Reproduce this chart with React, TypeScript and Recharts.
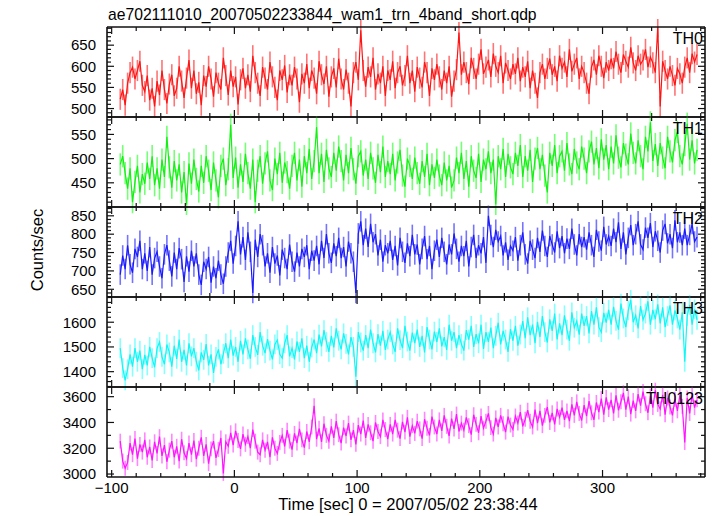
import React from "react";
import { ComposedChart, Line, XAxis, YAxis, ErrorBar } from "recharts";

// ---- time grid (bin centres, seconds) ----
const T0 = -93;
const BIN = 2;

// ---- series values (counts/sec) ----
const TH0 = [
  522, 545, 508, 560, 585, 598, 570, 590, 612, 555,
  540, 578, 520, 548, 505, 565, 532, 590, 545, 512,
  558, 580, 530, 548, 600, 565, 525, 572, 615, 548,
  590, 535, 562, 508, 578, 552, 600, 570, 528, 585,
  560, 545, 620, 578, 532, 590, 552, 575, 510, 568,
  595, 548, 580, 540, 625, 585, 560, 530, 598, 572,
  545, 610, 575, 550, 520, 590, 568, 602, 538, 580,
  555, 598, 570, 515, 582, 560, 605, 548, 590, 572,
  535, 612, 580, 558, 600, 528, 575, 595, 550, 618,
  570, 545, 592, 560, 505, 585, 610, 568, 685, 590,
  552, 598, 575, 620, 545, 582, 560, 600, 530, 590,
  568, 612, 548, 585, 600, 555, 578, 625, 560, 590,
  540, 598, 572, 550, 610, 585, 530, 595, 568, 605,
  575, 545, 590, 560, 600, 528, 565, 592, 680, 580,
  610, 585, 558, 620, 595, 570, 605, 640, 582, 598,
  615, 575, 630, 600, 585, 625, 560, 608, 590, 570,
  605, 582, 620, 565, 598, 575, 612, 548, 590, 560,
  525, 585, 605, 570, 595, 618, 580, 600, 565, 625,
  595, 610, 575, 640, 588, 605, 620, 570, 600, 585,
  560, 535, 598, 615, 580, 625, 600, 572, 610, 590,
  618, 595, 635, 605, 585, 628, 612, 598, 645, 608,
  590, 625, 605, 615, 640, 598, 622, 608, 585, 693,
  505, 612, 590, 570, 600, 578, 555, 595, 582, 560,
  598, 620, 585, 630, 610, 628,
];
const TH1 = [
  488, 505, 470, 438, 480, 410, 452, 485, 430, 468,
  448, 492, 458, 505, 445, 480, 438, 498, 462, 545,
  482, 440, 495, 455, 488, 430, 472, 405, 490, 448,
  498, 458, 432, 485, 450, 505, 475, 435, 492, 455,
  420, 485, 500, 445, 478, 570, 460, 502, 440, 488,
  452, 510, 470, 438, 498, 410, 475, 505, 448, 490,
  515, 455, 435, 500, 468, 512, 450, 492, 472, 438,
  485, 512, 455, 498, 442, 505, 470, 520, 458, 495,
  565, 470, 510, 452, 518, 480, 462, 512, 475, 525,
  495, 455, 508, 470, 522, 478, 448, 505, 515, 465,
  498, 458, 512, 480, 450, 508, 472, 525, 462, 495,
  468, 510, 455, 492, 518, 465, 442, 500, 485, 458,
  502, 470, 448, 495, 462, 510, 445, 488, 460, 498,
  465, 445, 492, 455, 485, 440, 455, 502, 470, 512,
  458, 495, 442, 505, 475, 460, 510, 452, 498, 478,
  515, 470, 498, 405, 505, 478, 520, 462, 510, 482,
  468, 512, 485, 528, 462, 505, 475, 518, 452, 500,
  522, 478, 508, 465, 430, 512, 485, 528, 470, 505,
  515, 475, 532, 488, 468, 520, 492, 478, 525, 500,
  470, 515, 535, 488, 522, 480, 540, 498, 528, 478,
  525, 490, 548, 502, 482, 532, 508, 488, 552, 512,
  490, 538, 505, 478, 545, 515, 575, 495, 530, 485,
  532, 502, 480, 545, 515, 492, 538, 555, 505, 488,
  528, 572, 498, 538, 490, 518,
];
const TH2 = [
  690, 742, 705, 770, 718, 695, 760, 738, 782, 705,
  748, 700, 765, 690, 735, 752, 712, 680, 745, 770,
  728, 685, 750, 705, 762, 732, 670, 740, 698, 755,
  712, 748, 690, 662, 725, 705, 738, 668, 712, 680,
  728, 690, 665, 712, 750, 782, 720, 768, 835, 745,
  792, 730, 805, 752, 640, 785, 738, 800, 770, 712,
  748, 695, 765, 720, 742, 688, 758, 735, 705, 772,
  725, 698, 750, 712, 760, 738, 770, 705, 755, 728,
  768, 718, 782, 735, 800, 748, 722, 775, 740, 790,
  735, 765, 712, 780, 748, 725, 640, 802, 835, 770,
  815, 765, 828, 778, 800, 742, 785, 725, 770, 748,
  782, 730, 768, 715, 790, 752, 722, 775, 740, 798,
  745, 772, 718, 760, 795, 732, 768, 705, 755, 785,
  738, 790, 752, 718, 772, 745, 802, 760, 725, 768,
  740, 782, 712, 765, 798, 735, 770, 748, 792, 722,
  850, 798, 765, 812, 780, 795, 742, 778, 730, 768,
  755, 792, 728, 770, 805, 745, 720, 782, 758, 735,
  790, 752, 810, 768, 738, 795, 772, 750, 808, 762,
  795, 748, 788, 760, 815, 772, 742, 800, 765, 792,
  758, 805, 770, 738, 812, 780, 755, 820, 772, 795,
  768, 815, 778, 832, 760, 805, 745, 790, 825, 770,
  800, 835, 772, 758, 818, 790, 830, 765, 808, 782,
  750, 810, 828, 775, 800, 762, 838, 778, 805, 770,
  815, 770, 798, 828, 780, 792,
];
const TH3 = [
  1495, 1415, 1365, 1410, 1470, 1420, 1495, 1440, 1485, 1410,
  1468, 1425, 1500, 1455, 1418, 1495, 1520, 1460, 1430, 1510,
  1478, 1420, 1505, 1452, 1530, 1440, 1488, 1425, 1515, 1462,
  1495, 1440, 1405, 1478, 1448, 1512, 1425, 1470, 1395, 1460,
  1490, 1430, 1472, 1515, 1455, 1530, 1465, 1500, 1440, 1525,
  1470, 1535, 1490, 1452, 1548, 1500, 1468, 1560, 1505, 1475,
  1532, 1485, 1450, 1510, 1528, 1470, 1455, 1515, 1548, 1462,
  1495, 1450, 1522, 1480, 1535, 1455, 1505, 1440, 1498, 1530,
  1475, 1550, 1502, 1568, 1520, 1480, 1545, 1498, 1575, 1525,
  1490, 1555, 1512, 1470, 1540, 1500, 1380, 1560, 1518, 1485,
  1548, 1495, 1570, 1515, 1478, 1552, 1505, 1565, 1488, 1530,
  1560, 1510, 1480, 1575, 1528, 1495, 1585, 1522, 1485, 1558,
  1515, 1570, 1500, 1545, 1478, 1580, 1530, 1490, 1562, 1520,
  1575, 1502, 1540, 1488, 1590, 1525, 1560, 1495, 1548, 1512,
  1485, 1568, 1530, 1585, 1500, 1552, 1515, 1590, 1492, 1560,
  1520, 1578, 1495, 1545, 1598, 1510, 1565, 1530, 1480, 1572,
  1525, 1585, 1505, 1550, 1605, 1535, 1620, 1548, 1590, 1515,
  1602, 1540, 1625, 1560, 1518, 1612, 1565, 1635, 1530, 1595,
  1548, 1628, 1570, 1525, 1640, 1578, 1605, 1550, 1635, 1585,
  1625, 1555, 1645, 1590, 1660, 1580, 1560, 1638, 1598, 1650,
  1590, 1662, 1605, 1570, 1675, 1615, 1580, 1648, 1690, 1600,
  1628, 1575, 1665, 1610, 1635, 1685, 1590, 1650, 1612, 1672,
  1595, 1660, 1580, 1625, 1668, 1590, 1648, 1615, 1570, 1640,
  1440, 1625, 1670, 1590, 1652, 1610,
];
const TH0123 = [
  3255, 3100, 3045, 3090, 3240, 3150, 3275, 3120, 3230, 3170,
  3265, 3130, 3210, 3105, 3250, 3160, 3290, 3140, 3225, 3095,
  3185, 3255, 3130, 3215, 3100, 3270, 3165, 3120, 3240, 3150,
  3260, 3115, 3200, 3285, 3140, 3230, 3080, 3195, 3255, 3125,
  3190, 3280, 3005, 3250, 3215, 3320, 3225, 3335, 3260, 3195,
  3310, 3230, 3290, 3200, 3345, 3255, 3170, 3150, 3265, 3185,
  3250, 3130, 3285, 3200, 3160, 3245, 3300, 3215, 3340, 3255,
  3190, 3315, 3240, 3350, 3265, 3205, 3330, 3250, 3365, 3530,
  3270, 3355, 3250, 3390, 3300, 3255, 3370, 3280, 3410, 3305,
  3240, 3360, 3295, 3395, 3265, 3340, 3230, 3380, 3310, 3415,
  3280, 3385, 3320, 3255, 3400, 3330, 3290, 3420, 3345, 3270,
  3385, 3310, 3420, 3340, 3275, 3405, 3325, 3440, 3290, 3375,
  3315, 3410, 3350, 3275, 3425, 3355, 3300, 3445, 3365, 3310,
  3420, 3335, 3455, 3370, 3295, 3430, 3350, 3465, 3330, 3395,
  3340, 3440, 3375, 3305, 3460, 3385, 3320, 3450, 3355, 3410,
  3470, 3360, 3310, 3435, 3365, 3455, 3390, 3325, 3445, 3380,
  3345, 3450, 3395, 3480, 3370, 3425, 3495, 3410, 3365, 3500,
  3395, 3490, 3375, 3455, 3520, 3400, 3475, 3385, 3505, 3440,
  3515, 3420, 3490, 3410, 3540, 3455, 3560, 3470, 3415, 3535,
  3450, 3565, 3475, 3420, 3555, 3480, 3585, 3460, 3595, 3500,
  3575, 3470, 3610, 3495, 3560, 3630, 3500, 3600, 3465, 3570,
  3490, 3620, 3530, 3640, 3545, 3475, 3605, 3515, 3650, 3540,
  3505, 3615, 3460, 3590, 3520, 3455, 3580, 3490, 3610, 3525,
  3245, 3590, 3470, 3620, 3515, 3575,
];

// ---- 1-sigma error per bin ----
const TH0_ERR = 25;
const TH1_ERR = 23;
const TH2_ERR = 28;
const TH3_ERR = 40;
const TH0123_ERR = 58;

// ---- axes ----
const X_DOMAIN: [number, number] = [-103.8, 383.5];
const X_TICKS = [-100, -80, -60, -40, -20, 0, 20, 40, 60, 80, 100, 120, 140, 160, 180, 200, 220, 240, 260, 280, 300, 320, 340, 360, 380];
const X_MAJOR = [-100, 0, 100, 200, 300];

const TITLE = "ae702111010_20070502233844_wam1_trn_4band_short.qdp";
const Y_LABEL = "Counts/sec";
const X_LABEL = "Time [sec] 0 = 2007/05/02 23:38:44";

const FONT = "'Liberation Sans', Arial, Helvetica, sans-serif";
const W = 717;
const LEFT = 107;
const RIGHT = 705;
const PANEL_TOPS = [27, 117, 207, 297, 387];
const PANEL_H = 90;

type PanelCfg = {
  name: string;
  values: number[];
  err: number;
  domain: [number, number];
  major: number[];
  minor: [number, number, number];
  color: string;
  errColor: string;
};

const PANELS: PanelCfg[] = [
  { name: "TH0", values: TH0, err: TH0_ERR, domain: [480, 693], major: [500, 550, 600, 650], minor: [480, 690, 10], color: "#ff1414", errColor: "#ff7474" },
  { name: "TH1", values: TH1, err: TH1_ERR, domain: [400, 586], major: [450, 500, 550], minor: [400, 580, 10], color: "#14f014", errColor: "#74ff74" },
  { name: "TH2", values: TH2, err: TH2_ERR, domain: [629, 874], major: [650, 700, 750, 800, 850], minor: [630, 870, 10], color: "#1a1aff", errColor: "#7474ff" },
  { name: "TH3", values: TH3, err: TH3_ERR, domain: [1338, 1702], major: [1400, 1500, 1600], minor: [1340, 1700, 20], color: "#14f5f5", errColor: "#86ffff" },
  { name: "TH0123", values: TH0123, err: TH0123_ERR, domain: [2977, 3675], major: [3000, 3200, 3400, 3600], minor: [3000, 3600, 100], color: "#ff14ff", errColor: "#ff86ff" },
];

function stepTicks(a: number, b: number, s: number) {
  const out: number[] = [];
  for (let v = a; v <= b + 1e-9; v += s) out.push(Math.round(v * 1000) / 1000);
  return out;
}

const fmt = (v: number) => (v < 0 ? "\u2212" + Math.abs(v) : String(v));

function makeXTick(side: "top" | "bottom", showLabel: boolean) {
  return (props: any) => {
    const { x, y, payload } = props;
    const v = payload.value;
    const major = X_MAJOR.includes(v);
    const len = major ? 7 : 4;
    const dir = side === "bottom" ? -1 : 1;
    return (
      <g>
        <line x1={x} x2={x} y1={y} y2={y + dir * len} stroke="#111" strokeWidth={1.2} />
        {showLabel && major && side === "bottom" ? (
          <text x={x} y={y + 16} textAnchor="middle" fontSize={15} fontFamily={FONT} fill="#000">
            {fmt(v)}
          </text>
        ) : null}
      </g>
    );
  };
}

function makeYTick(side: "left" | "right", major: number[]) {
  return (props: any) => {
    const { x, y, payload } = props;
    const v = payload.value;
    const isMajor = major.includes(v);
    const len = isMajor ? 7 : 4;
    const dir = side === "left" ? 1 : -1;
    return (
      <g>
        <line x1={x} x2={x + dir * len} y1={y} y2={y} stroke="#111" strokeWidth={1.2} />
        {side === "left" && isMajor ? (
          <text x={x - 11} y={y + 5.3} textAnchor="end" fontSize={15} fontFamily={FONT} fill="#000">
            {fmt(v)}
          </text>
        ) : null}
      </g>
    );
  };
}

function Panel({ p, top, last }: { p: PanelCfg; top: number; last: boolean }) {
  const rows = p.values.map((v, i) => ({ t: T0 + i * BIN, v, e: p.err }));
  const padTop = 8;
  const padBottom = last ? 516 - (top + PANEL_H) : 8;
  const yTicks = stepTicks(p.minor[0], p.minor[1], p.minor[2]);
  const axisLine = { stroke: "#111", strokeWidth: 1.6 };
  return (
    <div style={{ position: "absolute", left: 0, top: top - padTop }}>
      <ComposedChart
        width={W}
        height={PANEL_H + padTop + padBottom}
        data={rows}
        margin={{ top: padTop - 1, bottom: padBottom - 1, left: LEFT - 1, right: W - RIGHT - 1 }}
      >
        <XAxis
          xAxisId="b"
          dataKey="t"
          type="number"
          orientation="bottom"
          domain={X_DOMAIN}
          allowDataOverflow
          ticks={X_TICKS}
          interval={0}
          height={1}
          tickSize={0}
          tickMargin={0}
          tickLine={false}
          axisLine={axisLine}
          tick={makeXTick("bottom", last)}
        />
        <XAxis
          xAxisId="t"
          dataKey="t"
          type="number"
          orientation="top"
          domain={X_DOMAIN}
          allowDataOverflow
          ticks={X_TICKS}
          interval={0}
          height={1}
          tickSize={0}
          tickMargin={0}
          tickLine={false}
          axisLine={axisLine}
          tick={makeXTick("top", false)}
        />
        <YAxis
          yAxisId="l"
          type="number"
          orientation="left"
          domain={p.domain}
          allowDataOverflow
          ticks={yTicks}
          interval={0}
          width={1}
          tickSize={0}
          tickMargin={0}
          tickLine={false}
          axisLine={axisLine}
          tick={makeYTick("left", p.major)}
        />
        <YAxis
          yAxisId="r"
          type="number"
          orientation="right"
          domain={p.domain}
          allowDataOverflow
          ticks={yTicks}
          interval={0}
          width={1}
          tickSize={0}
          tickMargin={0}
          tickLine={false}
          axisLine={axisLine}
          tick={makeYTick("right", p.major)}
        />
        <Line
          xAxisId="b"
          yAxisId="l"
          dataKey="v"
          type="linear"
          stroke={p.color}
          strokeWidth={1.2}
          dot={false}
          activeDot={false}
          isAnimationActive={false}
        >
          <ErrorBar dataKey="e" direction="y" width={0} stroke={p.errColor} strokeWidth={1.6} isAnimationActive={false} />
        </Line>
      </ComposedChart>
    </div>
  );
}

export default function App() {
  return (
    <div style={{ position: "absolute", left: 0, top: 0, width: W, height: 516, background: "#fff", overflow: "hidden" }}>
      {PANELS.map((p, i) => (
        <Panel key={p.name} p={p} top={PANEL_TOPS[i]} last={i === PANELS.length - 1} />
      ))}
      <svg
        width={W}
        height={516}
        style={{ position: "absolute", left: 0, top: 0, pointerEvents: "none" }}
      >
        <text x={108} y={20} fontSize={15.7} fontFamily={FONT} fill="#000">
          {TITLE}
        </text>
        <text
          x={0}
          y={0}
          transform="translate(43 250) rotate(-90)"
          textAnchor="middle"
          fontSize={16.5}
          fontFamily={FONT}
          fill="#000"
        >
          {Y_LABEL}
        </text>
        <text x={408} y={510} textAnchor="middle" fontSize={16.5} fontFamily={FONT} fill="#000">
          {X_LABEL}
        </text>
        {PANELS.map((p, i) => (
          <text
            key={p.name}
            x={703}
            y={PANEL_TOPS[i] + 17}
            textAnchor="end"
            fontSize={16}
            fontFamily={FONT}
            fill="#000"
          >
            {p.name}
          </text>
        ))}
      </svg>
    </div>
  );
}
